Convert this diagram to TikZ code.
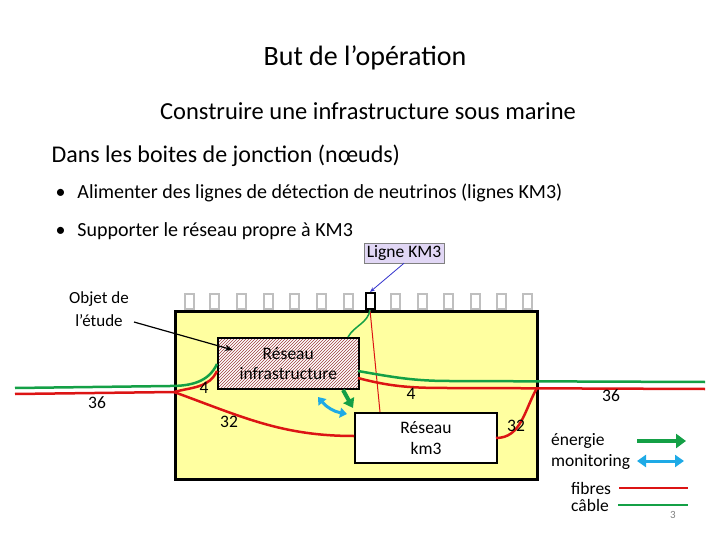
\documentclass[tikz,border=0pt]{standalone}
\usepackage{fontspec}
\setmainfont{Carlito}
\usetikzlibrary{patterns,arrows.meta}
\definecolor{yel}{RGB}{255,255,160}
\definecolor{gr}{RGB}{20,160,70}
\definecolor{rd}{RGB}{220,20,20}
\definecolor{bl}{RGB}{30,170,230}
\definecolor{lav}{RGB}{225,215,245}
\tikzset{lbl/.style={font=\fontsize{17.5}{20}\selectfont,inner sep=0},
 cab/.style={gr,line width=2.5pt},fib/.style={rd,line width=2.5pt},
 tooth/.style={draw=gray!50,line width=2pt,minimum width=9pt,minimum height=15pt,inner sep=0}}
\begin{document}
\begin{tikzpicture}[x=1pt,y=-1pt]
\useasboundingbox (0,0) rectangle (720,540);
\node[font=\fontsize{28}{32}\selectfont] (t1) at (365,58) {But de l’opération};
\node[font=\fontsize{24.5}{28}\selectfont] (t2) at (368,111) {Construire une infrastructure sous marine};
\node[font=\fontsize{24}{28}\selectfont,anchor=west] (t3) at (48,156) {Dans les boites de jonction (nœuds)};
\node[font=\fontsize{20}{24}\selectfont,anchor=west] (b1) at (52,193) {•\hspace{12pt}Alimenter des lignes de détection de neutrinos (lignes KM3)};
\node[font=\fontsize{20}{24}\selectfont,anchor=west] (b2) at (52,231) {•\hspace{12pt}Supporter le réseau propre à KM3};
\foreach \x [count=\i] in {189,214,241,268,294,321,348,395,422,448,475,501,527}
  \node[tooth] (g\i) at (\x,301) {};
\node[draw,line width=2pt,minimum width=9pt,minimum height=16pt,inner sep=0] (blk) at (370,301) {};
\node[draw,fill=yel,line width=2.5pt,minimum width=362pt,minimum height=168pt,anchor=north west] (yb) at (174,310) {};
\coordinate (L) at (15,388); \coordinate (R) at (705,382);
\coordinate (Lr) at (15,394); \coordinate (Rr) at (705,389);
\fill[white] (217,337) rectangle (358,388);
\node[draw,line width=1.5pt,pattern=north east lines,pattern color=rd!60!black!80,minimum width=141pt,minimum height=51pt,anchor=north west] (inf) at (217,337) {};
\node[lbl,align=center] at (inf) {Réseau\\infrastructure};
\node[draw,fill=white,line width=2pt,minimum width=142pt,minimum height=50pt,anchor=north west,align=center,font=\fontsize{17.5}{21}\selectfont] (km) at (354,412) {Réseau\\km3};
\coordinate (kt) at (380,412);
\draw[rd,line width=1pt] (blk.south) -- (kt);
\draw[cab] (L) -- (170,386) to[out=0,in=-115] (217,364);
\draw[cab] (358,371) to[out=-10,in=180] (450,381) -- (R);
\draw[gr,line width=1.5pt] (348,337) to[out=60,in=-100] (blk.south);
\draw[fib] (Lr) -- (174,392) to[out=15,in=-115] (217,371);
\draw[fib] (174,392) to[out=-20,in=180] (354,436);
\draw[fib] (358,378) to[out=-15,in=180] (460,388) -- (Rr);
\draw[fib] (496,438) to[out=0,in=-120] (537,388);
\draw[-{Triangle[length=9pt,width=12pt]},gr,line width=4pt] (343,390) -- (353,408);
\draw[{Triangle[length=7pt,width=10pt]}-{Triangle[length=7pt,width=10pt]},bl,line width=3pt] (318,397) to[bend right=20] (347,414);
\node[lbl] at (97,403) {36};
\node[lbl] at (204,388) {4};
\node[lbl] at (229,422) {32};
\node[lbl] at (411,394) {4};
\node[lbl] at (611,396) {36};
\node[lbl] at (516,426) {32};
\node[draw=gray,fill=lav,lbl,inner sep=2.5pt] (lk) at (404,253) {Ligne KM3};
\draw[-{Stealth[length=5pt]},blue!60!gray,line width=0.8pt] (lk.south) -- (blk.north);
\node[lbl,align=center,font=\fontsize{17}{23}\selectfont] (ob) at (99,309) {Objet de\\l’étude};
\coordinate (oe) at (134,322);
\draw[-{Stealth[length=8pt]},line width=1.2pt] (oe) -- (233,350);
\node[lbl,anchor=west] at (551,441) {énergie};
\node[lbl,anchor=west] at (551,462) {monitoring};
\node[lbl,anchor=west] at (571,488) {fibres};
\node[lbl,anchor=west] at (571,505) {câble};
\coordinate (e1) at (637,441); \coordinate (e2) at (686,441);
\draw[-{Triangle[length=10pt,width=14pt]},gr,line width=4.5pt] (e1) -- (e2);
\coordinate (m1) at (637,461); \coordinate (m2) at (684,461);
\draw[{Triangle[length=9pt,width=12pt]}-{Triangle[length=9pt,width=12pt]},bl,line width=3pt] (m1) -- (m2);
\coordinate (f1) at (619,488); \coordinate (f2) at (688,488);
\draw[rd,line width=2pt] (f1) -- (f2);
\coordinate (c1) at (618,505); \coordinate (c2) at (688,505);
\draw[gr,line width=2pt] (c1) -- (c2);
\node[font=\fontsize{11}{12}\selectfont,text=gray] at (673,515) {3};
\end{tikzpicture}
\end{document}
